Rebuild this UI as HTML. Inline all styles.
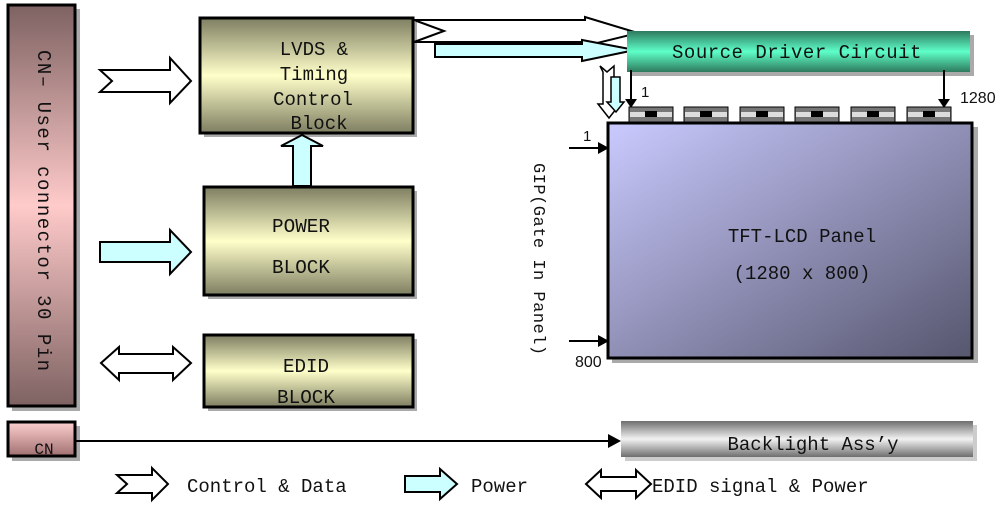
<!DOCTYPE html>
<html><head><meta charset="utf-8"><style>
html,body{margin:0;padding:0;background:#fff;}
svg{display:block;}
text{font-family:"Liberation Mono","DejaVu Sans Mono",monospace;fill:#111;}
</style></head><body>
<svg width="1004" height="511" viewBox="0 0 1004 511" xmlns="http://www.w3.org/2000/svg">
<defs>
<linearGradient id="cn" x1="0" y1="0" x2="0" y2="1">
<stop offset="0" stop-color="#7e6262"/><stop offset="0.5" stop-color="#ffcaca"/><stop offset="1" stop-color="#7e6262"/></linearGradient>
<linearGradient id="cn2" x1="0" y1="0" x2="0" y2="1">
<stop offset="0" stop-color="#ffd0d0"/><stop offset="1" stop-color="#a07070"/></linearGradient>
<linearGradient id="ol" x1="0" y1="0" x2="0" y2="1">
<stop offset="0" stop-color="#7e7e62"/><stop offset="0.5" stop-color="#ffffca"/><stop offset="1" stop-color="#7e7e62"/></linearGradient>
<linearGradient id="gr" x1="0" y1="0" x2="0" y2="1">
<stop offset="0" stop-color="#2e7a5e"/><stop offset="0.5" stop-color="#5effc8"/><stop offset="1" stop-color="#2e7a5e"/></linearGradient>
<linearGradient id="gy" x1="0" y1="0" x2="0" y2="1">
<stop offset="0" stop-color="#6e6e6e"/><stop offset="0.5" stop-color="#f2f2f2"/><stop offset="1" stop-color="#6e6e6e"/></linearGradient>
<linearGradient id="pn" x1="0" y1="0" x2="1" y2="1">
<stop offset="0" stop-color="#cacaff"/><stop offset="1" stop-color="#56566e"/></linearGradient>
</defs>

<!-- CN-1 -->
<rect x="12" y="9" width="68" height="402" fill="#aaa"/>
<rect x="8" y="5" width="67" height="401" fill="url(#cn)" stroke="#000" stroke-width="3"/>
<text transform="translate(38,50) rotate(90)" font-size="19" letter-spacing="1.5">CN– User connector 30 Pin</text>

<!-- LVDS -->
<rect x="204" y="22" width="213" height="115" fill="#aaa"/>
<rect x="200" y="18" width="213" height="115" fill="url(#ol)" stroke="#000" stroke-width="3"/>
<text x="314" y="55" font-size="19" text-anchor="middle">LVDS &amp;</text>
<text x="314" y="80" font-size="19" text-anchor="middle">Timing</text>
<text x="313" y="105" font-size="19" text-anchor="middle">Control</text>
<text x="319" y="129" font-size="19" text-anchor="middle">Block</text>

<!-- Power -->
<rect x="208" y="191" width="209" height="108" fill="#aaa"/>
<rect x="204" y="187" width="209" height="108" fill="url(#ol)" stroke="#000" stroke-width="3"/>
<text x="301" y="232" font-size="19" text-anchor="middle" textLength="58" lengthAdjust="spacingAndGlyphs">POWER</text>
<text x="301" y="273" font-size="19" text-anchor="middle" textLength="58" lengthAdjust="spacingAndGlyphs">BLOCK</text>

<!-- EDID -->
<rect x="208" y="339" width="209" height="72" fill="#aaa"/>
<rect x="204" y="335" width="209" height="72" fill="url(#ol)" stroke="#000" stroke-width="3"/>
<text x="306" y="372" font-size="19" text-anchor="middle" textLength="46" lengthAdjust="spacingAndGlyphs">EDID</text>
<text x="306" y="403" font-size="19" text-anchor="middle" textLength="58" lengthAdjust="spacingAndGlyphs">BLOCK</text>

<!-- arrows left -->
<polygon points="100,70 170,70 170,58 191,81 170,103 170,92 100,92 112,81" fill="#fff" stroke="#000" stroke-width="2"/>
<polygon points="100,242 170,242 170,230 191,252 170,274 170,262 100,262" fill="#ccffff" stroke="#000" stroke-width="2"/>
<polygon points="101,363 119,347 119,354 173,354 173,347 191,363 173,380 173,373 119,373 119,380" fill="#fff" stroke="#000" stroke-width="2"/>
<!-- power up arrow -->
<polygon points="293,186 293,146 281,146 302,135 323,146 311,146 311,186" fill="#ccffff" stroke="#000" stroke-width="2"/>

<!-- arrows to source driver -->
<polygon points="414,20 585,20 585,17 638,33 585,46 585,42 414,42 444,31" fill="#fff" stroke="#000" stroke-width="2"/>
<polygon points="435,44 582,44 582,40 635,50 582,61 582,57 435,57" fill="#ccffff" stroke="#000" stroke-width="2"/>

<!-- Source driver -->
<rect x="631" y="35" width="343" height="41" fill="#aaa"/>
<rect x="627" y="31" width="343" height="41" fill="url(#gr)"/>
<text x="797" y="58" font-size="19" text-anchor="middle" letter-spacing="0.5">Source Driver Circuit</text>

<!-- down arrows -->
<polygon points="600,66 607,72 614,66 614,104 620,104 609,118 598,104 603,104 603,72" fill="#fff" stroke="#000" stroke-width="1.5"/>
<polygon points="611,77 620,77 620,102 624,102 616,112 607,102 611,102" fill="#ccffff" stroke="#000" stroke-width="1.5"/>
<line x1="631" y1="70" x2="631" y2="100" stroke="#000" stroke-width="2"/>
<polygon points="625,99 637,99 631,108" fill="#000"/>
<text x="641" y="97" font-size="15" font-family="Liberation Sans" style="font-family:'Liberation Sans',sans-serif" fill="#a04000">1</text>
<line x1="944" y1="70" x2="944" y2="100" stroke="#000" stroke-width="2"/>
<polygon points="938,99 950,99 944,108" fill="#000"/>
<text x="960" y="103" font-size="16" style="font-family:'Liberation Sans',sans-serif">1280</text>

<!-- chips -->
<g>
<rect x="629" y="107" width="44" height="15" fill="#777" stroke="#000" stroke-width="1"/>
<rect x="630" y="112" width="42" height="5" fill="#ddd"/><rect x="645" y="111" width="12" height="6" fill="#000"/>
<rect x="684" y="107" width="44" height="15" fill="#777" stroke="#000" stroke-width="1"/>
<rect x="685" y="112" width="42" height="5" fill="#ddd"/><rect x="700" y="111" width="12" height="6" fill="#000"/>
<rect x="740" y="107" width="44" height="15" fill="#777" stroke="#000" stroke-width="1"/>
<rect x="741" y="112" width="42" height="5" fill="#ddd"/><rect x="756" y="111" width="12" height="6" fill="#000"/>
<rect x="795" y="107" width="44" height="15" fill="#777" stroke="#000" stroke-width="1"/>
<rect x="796" y="112" width="42" height="5" fill="#ddd"/><rect x="811" y="111" width="12" height="6" fill="#000"/>
<rect x="851" y="107" width="44" height="15" fill="#777" stroke="#000" stroke-width="1"/>
<rect x="852" y="112" width="42" height="5" fill="#ddd"/><rect x="867" y="111" width="12" height="6" fill="#000"/>
<rect x="907" y="107" width="44" height="15" fill="#777" stroke="#000" stroke-width="1"/>
<rect x="908" y="112" width="42" height="5" fill="#ddd"/><rect x="923" y="111" width="12" height="6" fill="#000"/>
</g>

<!-- Panel -->
<rect x="612" y="127" width="366" height="236" fill="#aaa"/>
<rect x="608" y="123" width="364" height="235" fill="url(#pn)" stroke="#000" stroke-width="3"/>
<text x="802" y="242" font-size="19" text-anchor="middle">TFT-LCD Panel</text>
<text x="802" y="279" font-size="19" text-anchor="middle">(1280 x 800)</text>

<!-- GIP -->
<text x="583" y="141" font-size="15" style="font-family:'Liberation Sans',sans-serif">1</text>
<line x1="569" y1="148" x2="600" y2="148" stroke="#000" stroke-width="2"/>
<polygon points="598,142 609,148 598,154" fill="#000"/>
<line x1="569" y1="341" x2="600" y2="341" stroke="#000" stroke-width="2"/>
<polygon points="598,335 609,341 598,347" fill="#000"/>
<text x="575" y="367" font-size="16" style="font-family:'Liberation Sans',sans-serif">800</text>
<text transform="translate(534,163) rotate(90)" font-size="17" letter-spacing="0.5">GIP(Gate In Panel)</text>

<!-- CN small -->
<rect x="12" y="426" width="68" height="35" fill="#aaa"/>
<rect x="8" y="422" width="67" height="34" fill="url(#cn2)" stroke="#000" stroke-width="3"/>
<text x="44" y="454" font-size="16" text-anchor="middle">CN</text>
<line x1="76" y1="441" x2="612" y2="441" stroke="#000" stroke-width="2"/>
<polygon points="608,434 621,441 608,448" fill="#000"/>

<!-- Backlight -->
<rect x="625" y="425" width="352" height="36" fill="#ccc"/>
<rect x="621" y="421" width="352" height="36" fill="url(#gy)"/>
<text x="813" y="450" font-size="19" text-anchor="middle">Backlight Ass’y</text>

<!-- Legend -->
<polygon points="117,475 152,475 152,468 168,484 152,500 152,493 117,493 127,484" fill="#fff" stroke="#000" stroke-width="2"/>
<text x="187" y="492" font-size="19">Control &amp; Data</text>
<polygon points="405,476 440,476 440,469 457,484 440,499 440,492 405,492" fill="#ccffff" stroke="#000" stroke-width="2"/>
<text x="471" y="492" font-size="19">Power</text>
<polygon points="586,484 601,470 601,477 636,477 636,470 651,484 636,498 636,491 601,491 601,498" fill="#fff" stroke="#000" stroke-width="2"/>
<text x="652" y="492" font-size="19">EDID signal &amp; Power</text>
</svg>
</body></html>
